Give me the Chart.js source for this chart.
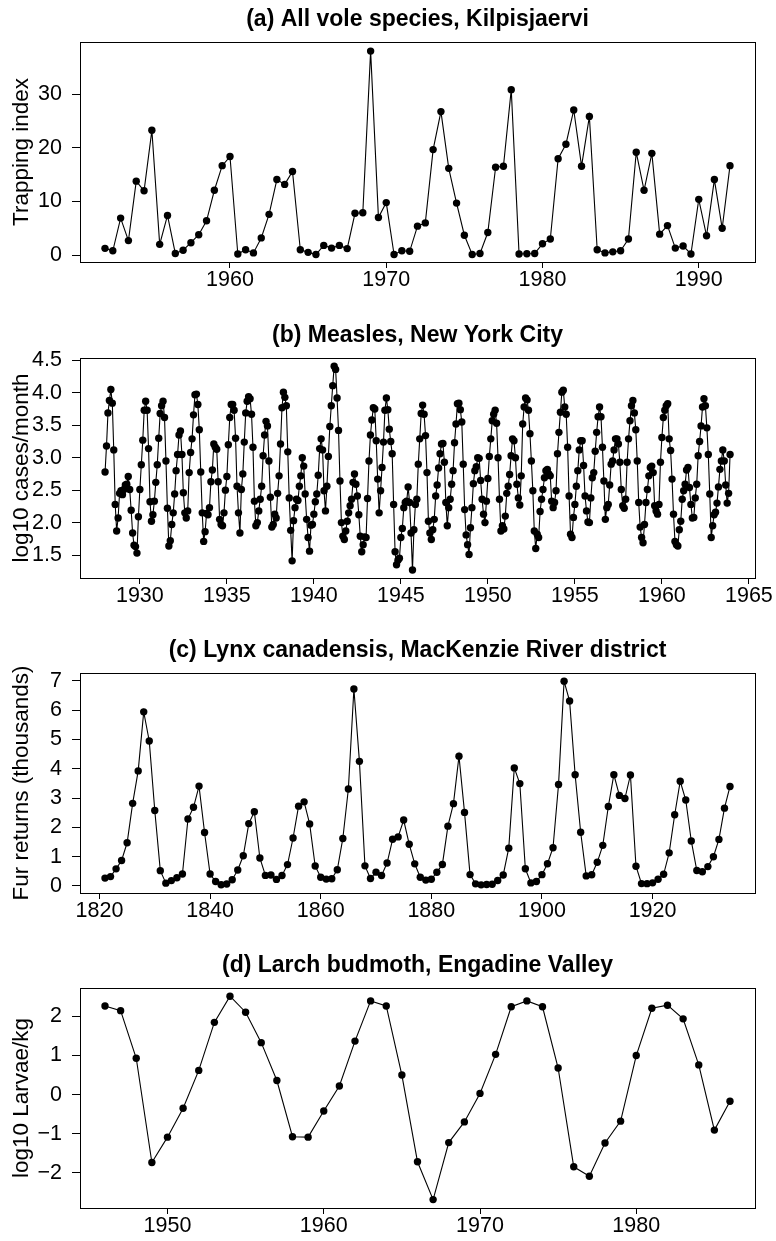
<!DOCTYPE html>
<html>
<head>
<meta charset="utf-8">
<script src="https://cdn.jsdelivr.net/npm/chart.js@4/dist/chart.umd.min.js"></script>
<style>
  html, body { margin: 0; padding: 0; background: #fff; }
  #wrap { position: relative; width: 776px; height: 1241px; }
  #wrap canvas { position: absolute; left: 0; }
</style>
</head>
<body>
<div id="wrap">
  <canvas id="panelA" width="776" height="316" style="top:0px"></canvas>
  <canvas id="panelB" width="776" height="315" style="top:316px"></canvas>
  <canvas id="panelC" width="776" height="315" style="top:631px"></canvas>
  <canvas id="panelD" width="776" height="295" style="top:946px"></canvas>
</div>
<script>
// (a) All vole species, Kilpisjaervi: twice-yearly trapping index from 1952
const voleStartYear = 1952;
const voleStep = 0.5;
const voleTrapIndex = [
  1.25, 0.8, 6.9, 2.7, 13.8, 12.0, 23.3, 2.0, 7.4, 0.3,
  0.9, 2.3, 3.8, 6.4, 12.1, 16.7, 18.4, 0.2, 1.0, 0.4,
  3.2, 7.6, 14.1, 13.2, 15.6, 1.0, 0.5, 0.1, 1.8, 1.3,
  1.8, 1.2, 7.8, 7.9, 38.1, 7.0, 9.8, 0.1, 0.8, 0.7,
  5.4, 6.0, 19.7, 26.8, 16.2, 9.7, 3.7, 0.1, 0.3, 4.2,
  16.4, 16.6, 30.9, 0.2, 0.25, 0.3, 2.1, 3.0, 18.0, 20.7,
  27.1, 16.6, 25.9, 1.0, 0.4, 0.6, 0.8, 3.0, 19.2, 12.1,
  19.0, 3.9, 5.5, 1.3, 1.7, 0.2, 10.4, 3.6, 14.1, 5.0,
  16.7
];
const voleXTicks = [1960, 1970, 1980, 1990];
const voleYTicks = [0, 10, 20, 30];

// (b) Measles, New York City: monthly log10 cases, Jan 1928 - Dec 1963
const measlesStartYear = 1928;
const measlesStep = 1 / 12;
const measlesLog10Cases = [
  2.78, 3.18, 3.69, 3.88, 4.05, 3.84, 3.12, 2.28, 1.87, 2.07, 2.45, 2.49, // 1928
  2.43, 2.51, 2.58, 2.59, 2.71, 2.51, 2.19, 1.84, 1.65, 1.63, 1.53, 2.09, // 1929
  2.51, 2.89, 3.27, 3.73, 3.87, 3.73, 3.14, 2.32, 2.02, 2.12, 2.33, 2.62, // 1930
  2.89, 3.30, 3.68, 3.80, 3.87, 3.62, 2.95, 2.22, 1.64, 1.72, 1.97, 2.15, // 1931
  2.44, 2.80, 3.05, 3.35, 3.41, 3.05, 2.46, 2.15, 2.07, 2.18, 2.77, 3.08, // 1932
  3.29, 3.66, 3.97, 3.98, 3.82, 3.43, 2.78, 2.15, 1.71, 1.86, 2.14, 2.12, // 1933
  2.23, 2.63, 2.81, 3.21, 3.16, 3.13, 2.63, 2.05, 1.97, 1.95, 2.15, 2.50, // 1934
  2.71, 3.20, 3.62, 3.82, 3.82, 3.73, 3.30, 2.56, 2.15, 1.84, 2.51, 2.75, // 1935
  3.24, 3.69, 3.87, 3.94, 3.91, 3.67, 3.16, 2.33, 1.95, 2.00, 2.18, 2.36, // 1936
  2.56, 3.03, 3.35, 3.56, 3.49, 2.95, 2.39, 1.93, 1.97, 2.13, 2.07, 2.45, // 1937
  2.72, 3.21, 3.77, 4.01, 3.93, 3.80, 3.09, 2.38, 1.88, 1.41, 2.03, 2.23, // 1938
  2.36, 2.34, 2.56, 2.72, 3.00, 2.87, 2.44, 2.05, 1.77, 1.56, 1.96, 1.97, // 1939
  2.13, 2.32, 2.44, 2.73, 3.14, 3.29, 3.12, 2.49, 2.18, 2.56, 3.02, 3.48, // 1940
  3.80, 4.11, 4.41, 4.36, 3.92, 3.42, 2.64, 2.00, 1.79, 1.74, 1.87, 2.02, // 1941
  2.15, 2.26, 2.36, 2.62, 2.75, 2.59, 2.41, 2.12, 1.79, 1.55, 1.66, 1.78, // 1942
  1.77, 2.37, 2.95, 3.35, 3.58, 3.77, 3.75, 3.26, 2.67, 2.15, 2.49, 2.85, // 1943
  3.24, 3.73, 3.92, 3.74, 3.44, 3.25, 3.06, 2.28, 1.55, 1.35, 1.42, 1.45, // 1944
  1.77, 1.91, 2.23, 2.31, 2.33, 2.55, 2.31, 1.84, 1.27, 1.89, 2.28, 2.36, // 1945
  2.90, 3.29, 3.68, 3.81, 3.67, 3.34, 2.77, 2.02, 1.84, 1.74, 1.89, 2.05, // 1946
  2.41, 2.58, 2.84, 3.06, 3.21, 3.22, 2.93, 2.31, 1.95, 2.23, 2.36, 2.59, // 1947
  2.80, 3.23, 3.52, 3.83, 3.84, 3.74, 3.55, 2.90, 2.20, 1.81, 1.66, 1.51, // 1948
  1.92, 2.23, 2.60, 2.80, 2.86, 3.00, 2.99, 2.65, 2.36, 2.13, 2.00, 2.33, // 1949
  2.68, 3.02, 3.29, 3.57, 3.67, 3.73, 3.53, 3.00, 2.36, 1.87, 1.95, 1.90, // 1950
  2.10, 2.45, 2.56, 2.74, 3.03, 3.29, 3.26, 3.00, 2.59, 2.38, 2.27, 2.72, // 1951
  3.52, 3.78, 3.92, 3.89, 3.73, 3.37, 2.95, 2.49, 1.87, 1.60, 1.82, 1.77, // 1952
  2.17, 2.36, 2.51, 2.69, 2.80, 2.82, 2.75, 2.72, 2.33, 2.23, 2.31, 2.49, // 1953
  3.06, 3.39, 3.70, 4.01, 4.04, 3.78, 3.67, 3.16, 2.41, 1.82, 1.77, 2.08, // 1954
  2.28, 2.56, 2.80, 3.12, 3.26, 3.26, 2.88, 2.41, 2.18, 2.01, 2.00, 2.38, // 1955
  2.69, 2.77, 3.10, 3.39, 3.63, 3.78, 3.63, 3.16, 2.64, 2.05, 2.23, 2.28, // 1956
  2.58, 2.90, 2.95, 3.12, 3.29, 3.29, 3.21, 2.93, 2.51, 2.26, 2.22, 2.36, // 1957
  2.93, 3.29, 3.57, 3.80, 3.88, 3.69, 3.43, 2.95, 2.31, 1.93, 1.77, 1.69, // 1958
  1.97, 2.31, 2.51, 2.72, 2.85, 2.87, 2.77, 2.26, 2.18, 2.13, 2.28, 2.93, // 1959
  3.31, 3.62, 3.73, 3.80, 3.83, 3.29, 3.11, 2.67, 2.13, 1.71, 1.66, 1.64, // 1960
  1.89, 2.02, 2.36, 2.49, 2.59, 2.81, 2.85, 2.54, 2.28, 2.07, 2.08, 2.38, // 1961
  2.59, 3.03, 3.25, 3.49, 3.78, 3.91, 3.80, 3.46, 3.05, 2.44, 1.77, 1.95, // 1962
  2.12, 2.16, 2.30, 2.55, 2.82, 2.95, 3.12, 2.95, 2.58, 2.30, 2.45, 3.05  // 1963
];
const measlesXTicks = [1930, 1935, 1940, 1945, 1950, 1955, 1960, 1965];
const measlesYTicks = [1.5, 2.0, 2.5, 3.0, 3.5, 4.0, 4.5];

// (c) Lynx canadensis, MacKenzie River district: annual fur returns (thousands), 1821-1934
const lynxStartYear = 1821;
const lynxStep = 1;
const lynxFurThousands = [
  0.269, 0.321, 0.585, 0.871, 1.475, 2.821, 3.928, 5.943, 4.950, 2.577,
  0.523, 0.098, 0.184, 0.279, 0.409, 2.285, 2.685, 3.409, 1.824, 0.409,
  0.151, 0.045, 0.068, 0.213, 0.546, 1.033, 2.129, 2.536, 0.957, 0.361,
  0.377, 0.225, 0.360, 0.731, 1.638, 2.725, 2.871, 2.119, 0.684, 0.299,
  0.236, 0.245, 0.552, 1.623, 3.311, 6.721, 4.254, 0.687, 0.255, 0.473,
  0.358, 0.784, 1.594, 1.676, 2.251, 1.426, 0.756, 0.299, 0.201, 0.229,
  0.469, 0.736, 2.042, 2.811, 4.431, 2.511, 0.389, 0.073, 0.039, 0.049,
  0.059, 0.188, 0.377, 1.292, 4.031, 3.495, 0.587, 0.105, 0.153, 0.387,
  0.758, 1.307, 3.465, 6.991, 6.313, 3.794, 1.836, 0.345, 0.382, 0.808,
  1.388, 2.713, 3.800, 3.091, 2.985, 3.790, 0.674, 0.081, 0.080, 0.108,
  0.229, 0.399, 1.132, 2.432, 3.574, 2.935, 1.537, 0.529, 0.485, 0.662,
  1.000, 1.590, 2.657, 3.396
];
const lynxXTicks = [1820, 1840, 1860, 1880, 1900, 1920];
const lynxYTicks = [0, 1, 2, 3, 4, 5, 6, 7];

// (d) Larch budmoth, Engadine Valley: annual log10 larvae per kg, 1946-1986
const budmothStartYear = 1946;
const budmothStep = 1;
const budmothLog10Larvae = [
  2.27, 2.15, 0.93, -1.74, -1.09, -0.35, 0.62, 1.85, 2.52, 2.11,
  1.33, 0.36, -1.08, -1.09, -0.42, 0.22, 1.37, 2.40, 2.27, 0.50,
  -1.72, -2.69, -1.23, -0.70, 0.03, 1.03, 2.25, 2.40, 2.25, 0.68,
  -1.85, -2.09, -1.24, -0.68, 1.00, 2.21, 2.29, 1.94, 0.76, -0.91,
  -0.17
];
const budmothXTicks = [1950, 1960, 1970, 1980];
const budmothYTicks = [-2, -1, 0, 1, 2];

const FONT = '"Liberation Sans", Arial, Helvetica, sans-serif';
const BOX_TOP = 42;
const BOX_BOTTOM = 262;

// Frame around the plotting region, bold panel title and rotated y-axis title
const framePlugin = {
  id: 'frame',
  afterDraw(chart, args, opts) {
    const { ctx, chartArea: a } = chart;
    ctx.save();
    ctx.strokeStyle = '#000';
    ctx.lineWidth = 1;
    ctx.strokeRect(Math.round(a.left) + 0.5, Math.round(a.top) + 0.5,
                   Math.round(a.right - a.left), Math.round(a.bottom - a.top));
    ctx.fillStyle = '#000';
    ctx.textAlign = 'center';
    ctx.textBaseline = 'alphabetic';
    ctx.font = 'bold 23px ' + FONT;
    ctx.fillText(opts.title, (a.left + a.right) / 2, 26);
    ctx.font = '22.5px ' + FONT;
    ctx.translate(22, (a.top + a.bottom) / 2);
    ctx.rotate(-Math.PI / 2);
    ctx.textBaseline = 'middle';
    ctx.fillText(opts.yTitle, 0, 0);
    ctx.restore();
  }
};

function seriesPoints(start, step, values) {
  return values.map((v, i) => ({ x: start + i * step, y: v }));
}

function fmtMinus(v) {
  return String(v).replace('-', '\u2212');
}

function drawPanel(id, points, xRange, yRange, xTicks, yTicks, yLabel, title, yTitle) {
  const canvas = document.getElementById(id);
  const H = canvas.height;
  new Chart(canvas, {
    type: 'line',
    data: {
      datasets: [{
        data: points,
        borderColor: '#000',
        backgroundColor: '#000',
        borderWidth: 1.1,
        pointRadius: 3.7,
        pointBorderWidth: 0,
        pointBackgroundColor: '#000',
        tension: 0
      }]
    },
    options: {
      responsive: false,
      animation: false,
      devicePixelRatio: 1,
      layout: { padding: { top: BOX_TOP, right: 21, left: 0, bottom: 0 } },
      plugins: {
        legend: { display: false },
        tooltip: { enabled: false },
        frame: { title, yTitle }
      },
      scales: {
        x: {
          type: 'linear',
          min: xRange[0],
          max: xRange[1],
          afterFit(s) { s.height = H - BOX_BOTTOM; },
          afterBuildTicks(s) { s.ticks = xTicks.map(v => ({ value: v })); },
          grid: { drawOnChartArea: false, drawTicks: true, tickLength: 6, color: '#000', lineWidth: 1 },
          border: { display: false },
          ticks: {
            color: '#000',
            font: { family: FONT, size: 21.5, lineHeight: 1 },
            padding: 1,
            maxRotation: 0,
            autoSkip: false,
            callback: v => String(v)
          }
        },
        y: {
          type: 'linear',
          min: yRange[0],
          max: yRange[1],
          afterFit(s) { s.width = 80; },
          afterBuildTicks(s) { s.ticks = yTicks.map(v => ({ value: v })); },
          grid: { drawOnChartArea: false, drawTicks: true, tickLength: 8, color: '#000', lineWidth: 1 },
          border: { display: false },
          ticks: {
            color: '#000',
            font: { family: FONT, size: 21.5 },
            padding: 10,
            autoSkip: false,
            callback: yLabel
          }
        }
      }
    },
    plugins: [framePlugin]
  });
}

drawPanel('panelA', seriesPoints(voleStartYear, voleStep, voleTrapIndex),
  [1950.4, 1993.6], [-1.3, 39.8], voleXTicks, voleYTicks,
  v => String(v), '(a) All vole species, Kilpisjaervi', 'Trapping index');

drawPanel('panelB', seriesPoints(measlesStartYear, measlesStep, measlesLog10Cases),
  [1926.56, 1965.35], [1.146, 4.536], measlesXTicks, measlesYTicks,
  v => v.toFixed(1), '(b) Measles, New York City', 'log10 cases/month');

drawPanel('panelC', seriesPoints(lynxStartYear, lynxStep, lynxFurThousands),
  [1816.48, 1938.52], [-0.239, 7.269], lynxXTicks, lynxYTicks,
  v => String(v), '(c) Lynx canadensis, MacKenzie River district', 'Fur returns (thousands)');

drawPanel('panelD', seriesPoints(budmothStartYear, budmothStep, budmothLog10Larvae),
  [1944.4, 1987.6], [-2.905, 2.73], budmothXTicks, budmothYTicks,
  fmtMinus, '(d) Larch budmoth, Engadine Valley', 'log10 Larvae/kg');
</script>
</body>
</html>
